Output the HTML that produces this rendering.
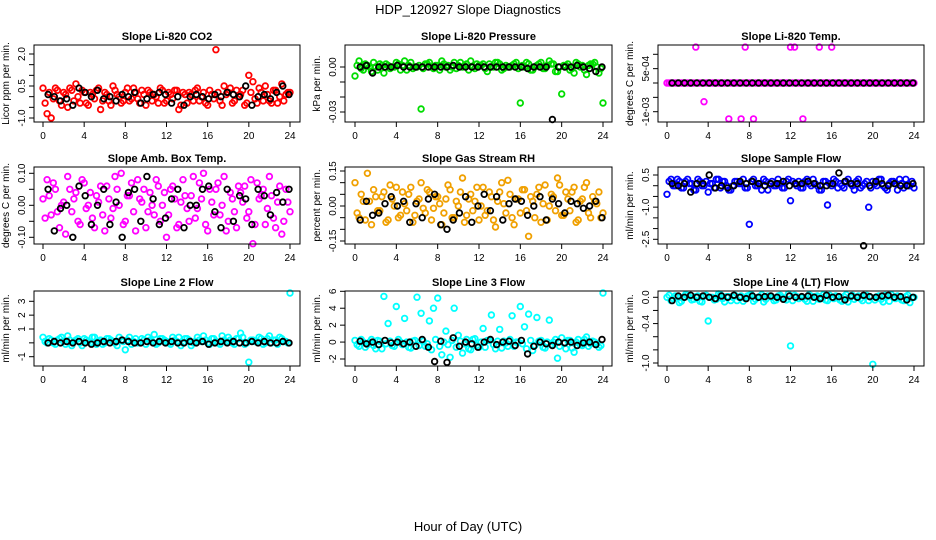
<!DOCTYPE html>
<html><head><meta charset="utf-8"><style>
html,body{margin:0;padding:0;background:#fff;}
svg{display:block;font-family:"Liberation Sans",Arial,sans-serif;}
</style></head><body>
<svg id="chart" width="936" height="540" viewBox="0 0 936 540" xmlns="http://www.w3.org/2000/svg">
<text x="468" y="14" text-anchor="middle" font-size="13">HDP_120927  Slope Diagnostics</text>
<text x="468" y="531" text-anchor="middle" font-size="13">Hour of Day (UTC)</text>
</svg>
<script>
const hoursC=[0,0.4,0.8,1.2,1.6,2,2.4,2.8,3.2,3.6,4,4.4,4.8,5.2,5.6,6,6.4,6.8,7.2,7.6,8,8.4,8.8,9.2,9.6,10,10.4,10.8,11.2,11.6,12,12.4,12.8,13.2,13.6,14,14.4,14.8,15.2,15.6,16,16.4,16.8,17.2,17.6,18,18.4,18.8,19.2,19.6,20,20.4,20.8,21.2,21.6,22,22.4,22.8,23.2,23.6,24];
const hoursC2=[0.2,0.6,1,1.4,1.8,2.2,2.6,3,3.4,3.8,4.2,4.6,5,5.4,5.8,6.2,6.6,7,7.4,7.8,8.2,8.6,9,9.4,9.8,10.2,10.6,11,11.4,11.8,12.2,12.6,13,13.4,13.8,14.2,14.6,15,15.4,15.8,16.2,16.6,17,17.4,17.8,18.2,18.6,19,19.4,19.8,20.2,20.6,21,21.4,21.8,22.2,22.6,23,23.4,23.8];
const hoursB=[0.5,1.1,1.7,2.3,2.9,3.5,4.1,4.7,5.3,5.9,6.5,7.1,7.7,8.3,8.9,9.5,10.1,10.7,11.3,11.9,12.5,13.1,13.7,14.3,14.9,15.5,16.1,16.7,17.3,17.9,18.5,19.1,19.7,20.3,20.9,21.5,22.1,22.7,23.3,23.9];
const xTicks=[0,4,8,12,16,20,24];

const co2C=[0.4,-0.8,-1.0,0.4,-0.2,0.2,-0.5,0.3,0.6,-0.3,0.2,-0.4,0.1,0.3,-0.6,0.2,-0.2,0.5,0.1,-0.3,0.2,-0.2,0.4,-0.1,0.3,-0.4,0.2,0.1,-0.3,0.3,-0.2,0.1,0.3,-0.6,0.2,-0.3,0.1,0.3,-0.2,0.2,-0.4,0.1,2.2,-0.2,0.5,0.2,-0.3,0.3,0.1,-0.4,1.0,0.7,-0.3,0.2,0.5,-0.2,0.3,-0.3,0.6,0.1,0.2];
const co2C2=[-0.3,0.2,-0.1,0.3,-0.4,0.1,0.4,-0.2,0.0,0.3,-0.3,0.2,-0.1,0.4,-0.2,0.1,-0.4,0.3,0.0,-0.2,0.4,-0.1,0.2,-0.3,0.1,0.3,-0.2,0.0,0.4,-0.3,0.2,-0.1,0.3,-0.4,0.1,0.2,-0.2,0.4,0.0,-0.3,0.3,-0.1,0.2,-0.4,0.1,0.4,-0.2,0.0,0.3,-0.3,0.2,-0.1,0.4,-0.2,0.1,-0.3,0.3,0.0,-0.2,0.2];
const co2B=[0.1,0.0,-0.2,-0.1,-0.4,0.4,0.2,0.0,0.3,-0.1,0.0,-0.2,0.1,0.0,0.2,-0.3,-0.1,0.1,0.2,0.1,-0.3,0.0,-0.4,0.0,0.1,0.0,-0.1,0.1,0.0,0.2,0.1,0.0,0.5,-0.4,0.0,0.1,-0.1,0.2,0.5,0.1];
const presC=[-0.006,0.004,-0.002,0.001,-0.003,0.0,0.002,-0.004,0.001,0.0,0.003,-0.002,0.004,0.001,-0.001,0.0,-0.028,0.002,0.003,-0.001,0.001,0.004,0.0,-0.002,0.003,0.001,0.0,0.002,0.004,-0.001,0.001,0.002,-0.003,0.0,0.003,0.002,-0.001,0.0,0.001,0.003,-0.024,0.0,0.002,-0.002,0.001,0.003,-0.001,0.004,0.002,-0.003,-0.018,0.001,-0.002,-0.004,0.002,0.001,-0.005,0.002,0.003,-0.004,-0.024];
const presC2=[0.001,-0.001,0.002,0.0,0.003,-0.002,0.001,0.002,-0.001,0.0,0.002,0.001,-0.002,0.003,0.0,0.001,-0.001,0.002,0.0,0.001,-0.002,0.002,0.001,0.0,-0.001,0.003,0.001,-0.002,0.0,0.002,0.001,-0.001,0.002,0.0,0.003,-0.002,0.001,0.0,0.002,-0.001,0.001,0.003,-0.002,0.0,0.002,-0.001,0.001,0.002,-0.003,0.0,0.001,0.002,-0.001,0.003,0.0,-0.002,0.001,0.002,0.0,-0.001];
const presB=[0.0,0.001,-0.004,0.0,0.0,0.0,0.001,0.0,0.0,0.0,0.0,0.0,0.0,0.0,0.0,0.001,0.0,0.0,0.0,0.0,0.0,0.0,0.0,0.0,0.0,0.0,0.0,-0.001,0.0,0.0,0.0,-0.035,0.0,0.0,0.0,0.001,0.0,-0.001,-0.003,0.0];
const tempC=[0,0,0,0,0,0,0,0.00125,0,-0.00065,0,0,0,0,0,-0.00125,0,0,-0.00125,0.00125,0,-0.00125,0,0,0,0,0,0,0,0,0.00125,0.00125,0,-0.00125,0,0,0,0.00125,0,0,0.00125,0,0,0,0,0,0,0,0,0,0,0,0,0,0,0,0,0,0,0,0];
const tempC2=[0,0,0,0,0,0,0,0,0,0,0,0,0,0,0,0,0,0,0,0,0,0,0,0,0,0,0,0,0,0,0,0,0,0,0,0,0,0,0,0,0,0,0,0,0,0,0,0,0,0,0,0,0,0,0,0,0,0,0,0];
const tempB=[0,0,0,0,0,0,0,0,0,0,0,0,0,0,0,0,0,0,0,0,0,0,0,0,0,0,0,0,0,0,0,0,0,0,0,0,0,0,0,0];
const ambC=[0.02,0.08,-0.03,0.05,-0.07,0.01,0.09,-0.02,0.04,-0.06,0.07,0.0,-0.04,0.03,0.06,-0.08,0.02,-0.01,0.05,0.1,-0.05,0.03,-0.02,0.08,0.01,-0.07,0.04,-0.03,0.06,0.0,-0.1,0.05,0.02,-0.06,0.08,-0.01,0.03,-0.04,0.07,0.1,-0.08,0.01,0.05,-0.03,0.09,-0.05,0.02,-0.07,0.04,0.06,-0.02,-0.12,0.07,0.03,-0.06,0.09,-0.04,0.01,-0.09,0.05,-0.02];
const ambC2=[-0.04,0.03,0.07,-0.02,0.0,-0.09,0.05,0.02,-0.05,0.08,-0.01,0.04,-0.07,0.01,-0.03,0.06,-0.04,0.09,0.0,-0.06,0.03,0.07,-0.08,0.02,0.05,-0.02,0.0,0.08,-0.05,0.04,-0.03,0.06,-0.07,0.01,0.03,-0.05,0.09,-0.01,0.02,-0.06,0.05,-0.03,0.07,0.0,-0.08,0.04,-0.02,0.06,0.01,-0.04,0.08,-0.06,0.02,0.05,-0.01,0.03,-0.07,0.06,-0.05,0.01];
const ambB=[0.05,-0.08,-0.01,0.0,-0.1,0.06,0.03,-0.06,0.0,0.05,-0.06,0.01,-0.1,0.04,0.05,-0.05,0.09,0.02,-0.06,-0.04,0.02,0.05,-0.07,0.0,0.0,0.05,0.06,-0.02,-0.07,0.05,-0.05,0.03,0.02,-0.06,0.05,0.03,-0.03,0.04,0.01,0.05];
const rhC=[0.1,-0.05,0.02,0.14,-0.08,0.04,-0.02,0.06,-0.06,0.03,0.08,-0.04,0.01,0.05,-0.07,0.02,0.1,-0.03,0.06,-0.01,0.04,-0.08,0.03,0.07,-0.05,0.0,0.12,-0.04,0.05,0.02,-0.06,0.08,-0.02,0.04,-0.09,0.06,0.01,0.11,-0.05,0.03,-0.03,0.07,-0.13,0.02,0.05,-0.07,0.09,0.0,0.04,0.12,-0.04,0.06,-0.02,0.08,-0.06,0.03,0.1,-0.05,0.02,0.06,-0.03];
const rhC2=[-0.03,0.05,-0.06,0.02,0.07,-0.02,0.04,-0.07,0.09,0.0,-0.05,0.06,-0.02,0.08,-0.04,0.03,-0.01,0.07,-0.06,0.04,0.01,-0.03,0.09,-0.05,0.02,0.06,-0.07,0.03,-0.02,0.08,0.0,-0.04,0.06,-0.06,0.02,0.1,-0.03,0.05,-0.08,0.03,0.07,-0.02,0.04,-0.05,0.08,0.01,-0.06,0.05,-0.02,0.09,-0.04,0.03,0.06,-0.07,0.02,0.08,-0.03,0.04,0.01,-0.05];
const rhB=[-0.06,0.02,-0.04,-0.03,0.01,0.04,0.0,0.02,-0.07,0.01,-0.05,0.03,0.05,-0.08,-0.1,-0.06,-0.03,0.04,-0.07,0.0,0.05,-0.02,0.04,-0.06,0.01,0.03,0.02,-0.04,0.0,0.04,-0.06,0.03,0.01,-0.03,0.02,0.01,-0.01,0.0,0.02,-0.05];
const sampC=[-0.4,0.3,0.0,0.2,-0.1,0.3,0.1,-0.2,0.2,0.0,-0.3,0.1,0.3,-0.1,0.2,-0.2,0.0,0.2,0.1,-0.1,-1.8,0.3,0.0,-0.2,0.2,0.1,0.0,0.3,-0.1,0.2,-0.7,0.1,0.2,-0.1,0.3,0.0,0.1,-0.2,0.2,-0.9,0.0,0.2,0.1,-0.1,0.3,0.0,0.2,-0.1,0.1,-1.0,0.2,0.0,0.3,-0.1,0.1,0.2,-0.2,0.1,0.3,0.0,-0.1];
const sampC2=[0.2,0.0,0.3,-0.1,0.2,0.1,-0.2,0.3,0.0,0.2,0.1,-0.1,0.3,0.2,0.0,-0.2,0.2,0.1,0.3,-0.1,0.2,0.0,0.1,0.3,-0.2,0.2,0.0,0.1,-0.1,0.3,0.2,0.0,-0.1,0.2,0.1,0.3,0.0,-0.2,0.2,0.1,0.3,-0.1,0.0,0.2,0.1,-0.2,0.3,0.0,0.2,-0.1,0.1,0.3,0.0,-0.2,0.2,0.1,0.3,-0.1,0.0,0.2];
const sampB=[0.1,0.0,0.1,-0.3,0.1,0.1,0.5,-0.1,0.0,-0.1,0.0,0.2,0.1,0.2,0.1,0.0,0.1,0.1,0.2,0.0,0.1,0.1,0.2,0.1,0.0,0.0,0.1,0.6,0.2,0.1,0.1,-2.8,0.0,0.2,0.1,0.0,0.1,0.0,0.0,0.1];
const l2C=[0.4,0.0,0.2,-0.1,0.3,0.1,0.5,-0.2,0.2,0.0,0.3,0.1,0.4,-0.1,0.2,0.0,0.3,0.1,-0.2,0.2,-0.5,0.4,0.1,0.0,0.3,-0.1,0.2,0.6,0.0,0.3,0.1,-0.1,0.2,0.4,0.0,0.3,-0.2,0.1,0.2,0.5,0.0,0.3,0.1,-0.1,0.2,0.4,0.0,0.3,0.7,-0.1,-1.4,0.2,0.1,0.3,0.0,0.5,0.2,-0.1,0.3,0.1,3.6];
const l2C2=[0.1,0.3,0.0,0.2,0.4,-0.1,0.2,0.1,0.3,-0.2,0.2,0.0,0.4,0.1,-0.1,0.3,0.2,0.0,0.4,0.1,0.2,-0.1,0.3,0.0,0.2,0.4,0.1,-0.1,0.3,0.2,0.0,0.4,0.1,-0.2,0.3,0.2,0.0,0.4,0.1,0.2,-0.1,0.3,0.0,0.5,0.1,0.2,-0.1,0.3,0.4,0.0,0.2,0.1,0.4,-0.1,0.3,0.0,0.2,0.4,0.1,0.0];
const l2B=[0.0,0.1,0.0,0.1,0.0,0.1,0.0,-0.1,0.0,0.1,0.0,0.1,0.2,0.1,0.0,0.0,0.1,0.0,0.1,0.0,0.1,0.0,0.0,0.1,0.0,0.1,-0.1,0.0,0.1,0.0,0.1,0.0,0.0,0.1,0.0,0.1,0.0,0.0,0.1,0.0];
const l3C=[0.2,-0.5,0.0,-0.3,0.3,-0.8,0.1,5.4,2.2,-0.4,4.2,0.0,2.8,-0.6,0.1,5.3,3.4,-0.5,2.5,4.0,5.2,-1.5,1.3,-1.8,4.0,0.8,-1.3,0.3,-0.9,0.4,-0.6,1.6,0.2,3.2,-0.8,1.5,0.1,-0.5,3.1,0.0,4.2,1.8,3.3,-1.0,2.9,0.2,-0.7,2.6,0.0,-1.9,0.5,-0.8,0.2,-1.2,0.3,-0.4,0.6,-0.2,0.0,-0.6,5.8];
const l3C2=[-0.3,0.3,-0.6,0.0,-0.4,0.2,-0.8,-0.2,0.1,-0.5,0.3,-0.3,0.0,-0.7,0.2,-0.4,0.1,-0.2,-0.9,0.3,-0.5,0.0,-0.3,0.2,-0.6,0.1,-0.2,-0.8,0.3,-0.4,0.0,-0.6,0.2,-0.3,0.1,-0.7,-0.1,0.3,-0.5,0.0,-0.2,-0.8,0.2,-0.4,0.1,-0.6,0.0,-0.3,0.3,-0.5,-0.1,0.2,-0.7,0.0,-0.3,0.3,-0.5,0.1,-0.2,-0.4];
const l3B=[0.1,-0.2,0.0,-0.3,0.2,-0.1,0.0,-0.2,0.0,-0.5,0.3,-0.6,-2.3,0.1,-2.4,0.5,-0.5,0.0,-0.2,-0.6,0.0,0.3,-0.3,0.0,0.1,-0.4,0.2,-1.4,-0.5,0.0,-0.2,-0.4,0.0,-0.1,0.0,-0.4,-0.1,0.0,-0.3,0.3];
const l4C=[0.0,-0.05,0.02,-0.08,0.0,0.03,-0.04,0.01,-0.06,0.02,-0.36,0.0,-0.03,0.04,-0.07,0.01,0.0,-0.05,0.02,-0.02,0.03,-0.06,0.0,0.04,-0.03,0.01,-0.05,0.02,0.0,-0.04,-0.74,0.03,-0.02,0.0,-0.06,0.02,0.01,-0.03,0.04,-0.05,0.0,0.02,-0.04,0.01,-0.07,0.03,0.0,-0.02,0.02,-0.05,-1.02,0.01,-0.03,0.03,-0.06,0.0,0.02,-0.04,0.01,-0.08,0.0];
const l4C2=[0.03,-0.02,0.01,-0.06,0.04,0.0,-0.03,0.02,-0.07,0.03,0.0,-0.04,0.05,-0.02,0.01,-0.05,0.03,0.0,-0.06,0.02,0.04,-0.03,0.01,-0.07,0.02,0.0,-0.04,0.03,-0.02,0.05,-0.05,0.01,0.0,-0.03,0.04,-0.06,0.02,0.0,-0.04,0.03,-0.02,0.01,-0.06,0.04,0.0,-0.03,0.02,-0.05,0.03,0.0,-0.04,0.02,-0.07,0.01,0.04,-0.02,0.0,-0.05,0.03,-0.01];
const l4B=[-0.05,0.02,0.0,0.03,0.0,0.02,0.0,-0.02,0.02,0.0,0.03,0.0,-0.02,0.02,0.0,0.01,0.02,0.0,-0.03,0.02,0.0,0.01,0.02,0.0,-0.02,0.03,0.0,0.01,-0.04,0.02,0.0,0.03,0.01,0.0,0.02,0.03,0.0,0.01,-0.04,0.0];

const co2Ticks=[-1,-0.5,0,0.5,1,1.5,2], co2Labels=["-1.0","","","0.5","","","2.0"];
const presTicks=[0,-0.01,-0.02,-0.03], presLabels=["0.00","","","-0.03"];
const tempTicks=[0.001,0.0005,0,-0.0005,-0.001], tempLabels=["","5e-04","","","-1e-03"];
const ambTicks=[0.1,0.05,0,-0.05,-0.1], ambLabels=["0.10","","0.00","","-0.10"];
const rhTicks=[0.15,0.1,0.05,0,-0.05,-0.1,-0.15], rhLabels=["0.15","","","0.00","","","-0.15"];
const sampTicks=[0.5,0,-0.5,-1,-1.5,-2,-2.5], sampLabels=["0.5","","","-1.0","","","-2.5"];
const l2Ticks=[3,2,1,0,-1], l2Labels=["3","2","1","","-1"];
const l3Ticks=[6,4,2,0,-2], l3Labels=["6","4","2","0","-2"];
const l4Ticks=[0,-0.2,-0.4,-0.6,-0.8,-1], l4Labels=["0.0","","-0.4","","","-1.0"];

const NS="http://www.w3.org/2000/svg";
const svg=document.getElementById('chart');
function mk(tag,attrs,parent){const e=document.createElementNS(NS,tag);for(const k in attrs)e.setAttribute(k,attrs[k]);(parent||svg).appendChild(e);return e;}
const cols=[{l:34,r:300,x0:43,x24:290},{l:345,r:612,x0:355,x24:603},{l:658,r:924,x0:667,x24:914}];
const rows=[{t:45,b:122},{t:167,b:244},{t:291,b:366}];
const panels=[
 {key:'co2',title:'Slope Li-820 CO2',yl:'Licor ppm per min.',c:0,r:0,v1:-1,p1:118,v2:2,p2:54,C:co2C,C2:co2C2,B:co2B,col:'#ff0000',ticks:co2Ticks,labels:co2Labels},
 {key:'pressure',title:'Slope Li-820 Pressure',yl:'kPa per min.',c:1,r:0,v1:0,p1:67,v2:-0.03,p2:112,C:presC,C2:presC2,B:presB,col:'#00dd00',ticks:presTicks,labels:presLabels},
 {key:'temp',title:'Slope Li-820 Temp.',yl:'degrees C per min.',c:2,r:0,v1:0.001,p1:54.3,v2:-0.001,p2:111.7,C:tempC,C2:tempC2,B:tempB,col:'#ff00ff',ticks:tempTicks,labels:tempLabels},
 {key:'amb-box-temp',title:'Slope Amb. Box Temp.',yl:'degrees C per min.',c:0,r:1,v1:0.1,p1:173.3,v2:-0.1,p2:237.3,C:ambC,C2:ambC2,B:ambB,col:'#ff00ff',ticks:ambTicks,labels:ambLabels},
 {key:'gas-rh',title:'Slope Gas Stream RH',yl:'percent per min.',c:1,r:1,v1:0.15,p1:171,v2:-0.15,p2:241,C:rhC,C2:rhC2,B:rhB,col:'#f0a000',ticks:rhTicks,labels:rhLabels},
 {key:'sample-flow',title:'Slope Sample Flow',yl:'ml/min per min.',c:2,r:1,v1:0.5,p1:175,v2:-2.5,p2:239.3,C:sampC,C2:sampC2,B:sampB,col:'#0000ff',ticks:sampTicks,labels:sampLabels},
 {key:'line2-flow',title:'Slope Line 2 Flow',yl:'ml/min per min.',c:0,r:2,v1:3,p1:301.3,v2:-1,p2:356.7,C:l2C,C2:l2C2,B:l2B,col:'#00ffff',ticks:l2Ticks,labels:l2Labels},
 {key:'line3-flow',title:'Slope Line 3 Flow',yl:'ml/min per min.',c:1,r:2,v1:6,p1:291.3,v2:-2,p2:359,C:l3C,C2:l3C2,B:l3B,col:'#00ffff',ticks:l3Ticks,labels:l3Labels},
 {key:'line4-flow',title:'Slope Line 4 (LT) Flow',yl:'ml/min per min.',c:2,r:2,v1:0,p1:297.3,v2:-1,p2:363,C:l4C,C2:l4C2,B:l4B,col:'#00ffff',ticks:l4Ticks,labels:l4Labels}
];
panels.forEach(p=>{
 const cc=cols[p.c], rr=rows[p.r];
 const xs=h=>cc.x0+(cc.x24-cc.x0)*h/24;
 const ys=v=>p.p1+(p.p2-p.p1)*(v-p.v1)/(p.v2-p.v1);
 const g=mk('g',{});
 
 
 const t=mk('text',{x:(cc.l+cc.r)/2,y:rr.t-5,'text-anchor':'middle','font-size':'11','font-weight':'bold'},g);
 
 
 t.textContent=p.title;
 const pts=mk('g',{fill:'none','stroke-width':'1.8'},g);
 
 
 const nC=Math.min(hoursC.length,p.C.length);
 for(let i=0;i<nC;i++){
  const c=mk('circle',{cx:xs(hoursC[i]).toFixed(1),cy:ys(p.C[i]).toFixed(1),r:2.8,stroke:p.col},pts);
  
  
 }
 const nC2=Math.min(hoursC2.length,p.C2.length);
 for(let i=0;i<nC2;i++){
  const c=mk('circle',{cx:xs(hoursC2[i]).toFixed(1),cy:ys(p.C2[i]).toFixed(1),r:2.8,stroke:p.col},pts);
  
  
 }
 const nB=Math.min(hoursB.length,p.B.length);
 for(let i=0;i<nB;i++){
  const c=mk('circle',{cx:xs(hoursB[i]).toFixed(1),cy:ys(p.B[i]).toFixed(1),r:2.8,stroke:'#000'},pts);
  
  
 }
 const box=mk('rect',{x:cc.l,y:rr.t,width:cc.r-cc.l,height:rr.b-rr.t,fill:'none',stroke:'#000','stroke-width':'1'},g);
 
 
 const xa=mk('g',{},g);
 
 
 xTicks.forEach(h=>{
  mk('line',{x1:xs(h),x2:xs(h),y1:rr.b,y2:rr.b+5,stroke:'#000'},xa);
  const l=mk('text',{x:xs(h),y:rr.b+17,'text-anchor':'middle','font-size':'10'},xa);
  
  
  l.textContent=h;
 });
 const ya=mk('g',{},g);
 
 
 p.ticks.forEach((v,i)=>{
  const y=ys(v);
  mk('line',{x1:cc.l-5,x2:cc.l,y1:y,y2:y,stroke:'#000'},ya);
  if(p.labels[i]){
   const l=mk('text',{x:cc.l-9,y:y,'text-anchor':'middle','font-size':'10',transform:`rotate(-90 ${cc.l-9} ${y})`},ya);
   
   
   l.textContent=p.labels[i];
  }
 });
 const ym=(rr.t+rr.b)/2, yx=cc.l-25;
 const yt=mk('text',{x:yx,y:ym,'text-anchor':'middle','font-size':'10',transform:`rotate(-90 ${yx} ${ym})`},g);
 
 
 yt.textContent=p.yl;
});
</script>
</body></html>
